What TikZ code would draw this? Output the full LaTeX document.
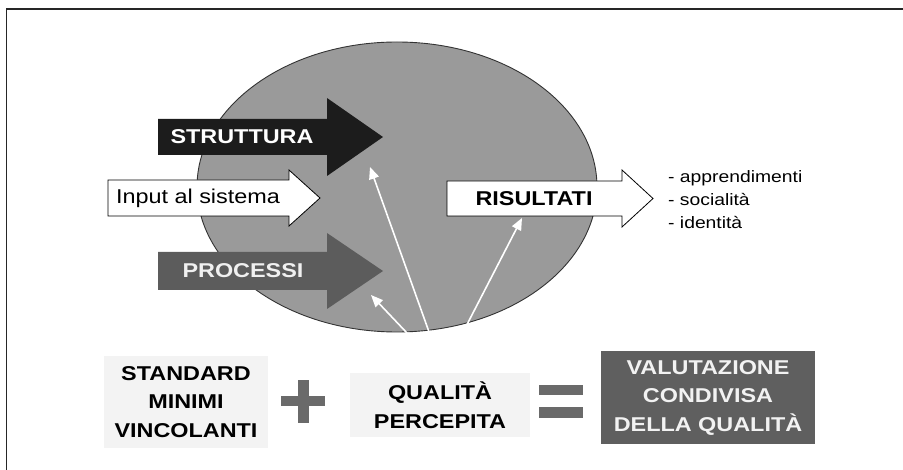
\documentclass[tikz,border=0pt]{standalone}
\usepackage{fontspec}
\setmainfont[FakeStretch=1.17]{Liberation Sans}
\usepackage{tikz}
\usetikzlibrary{calc,arrows.meta}

\definecolor{sysgray}{HTML}{9A9A9A}
\definecolor{strutturagray}{HTML}{1C1C1C}
\definecolor{processigray}{HTML}{5C5C5C}
\definecolor{signgray}{HTML}{6A6A6A}
\definecolor{boxlight}{HTML}{F3F3F3}
\definecolor{boxdark}{HTML}{5F5F5F}

\tikzset{
    bigtxt/.style={font=\fontsize{20}{24}\selectfont\bfseries, inner sep=0pt},
    boxtxt/.style={font=\fontsize{20}{28.5}\selectfont\bfseries, align=center, inner sep=0pt},
    qualityarrow/.style={->, white, line width=1.6pt}
}

\begin{document}
\begin{tikzpicture}[>={Triangle[length=12pt,width=10pt]}, x=1pt, y=-1pt]
        \useasboundingbox (0,0) rectangle (903,470);

        % Frame
        \draw[line width=1.1pt, black!85] (6.5,470) -- (6.5,9) -- (903,9);

        % Sistema (ellipse)
        \draw[fill=sysgray, draw=black!80, line width=0.9pt] (397,187) ellipse (200 and 145);

        % Struttura
        \draw[fill=strutturagray, draw=none] (158,119) -- (327,119) -- (327,98) -- (383,137)
            -- (327,176) -- (327,155) -- (158,155) -- cycle;
        \node[bigtxt, text=white] (struttura) at (242,137) {STRUTTURA};

        % Input al sistema
        \draw[fill=white, draw=black, line width=0.8pt] (108,180) -- (289,180) -- (289,170) -- (320,198)
            -- (289,226) -- (289,216) -- (108,216) -- cycle;
        \node[font=\fontsize{20}{24}\selectfont, inner sep=0pt] (input) at (198,198) {Input al sistema};

        % Processi
        \draw[fill=processigray, draw=none] (158,252) -- (327,252) -- (327,233) -- (383,271)
            -- (327,309) -- (327,290) -- (158,290) -- cycle;
        \node[bigtxt, text=white!94!black] (processi) at (243,271) {PROCESSI};

        % Risultati
        \draw[fill=white, draw=black, line width=0.8pt] (447,181) -- (622,181) -- (622,170) -- (653,198.5)
            -- (622,227) -- (622,216) -- (447,216) -- cycle;
        \node[bigtxt] (risultati) at (534,199) {RISULTATI};

        \node[anchor=west, align=left, inner sep=0pt, font=\fontsize{16.5}{23}\selectfont] (esiti) at (668,200)
            {- apprendimenti\\- socialit\`a\\- identit\`a};

        % Bottom row
        \node[boxtxt, fill=boxlight, minimum width=164pt, minimum height=92pt] (standard) at (186,402)
            {STANDARD\\MINIMI\\VINCOLANTI};
        \fill[signgray] (281,396) rectangle (325,406);
        \fill[signgray] (298,380) rectangle (309,423);

        \node[boxtxt, fill=boxlight, minimum width=180pt, minimum height=64pt] (qualita) at (440,405)
            {QUALIT\`A\\PERCEPITA};
        \fill[signgray] (539,385) rectangle (583,395);
        \fill[signgray] (539,407) rectangle (583,418);

        \node[boxtxt, text=white!95!black, fill=boxdark, minimum width=214pt, minimum height=93pt] (valutazione)
            at (708,397.5) {VALUTAZIONE\\CONDIVISA\\DELLA QUALIT\`A};

        % Quality arrows
        \coordinate (src) at (443,371);
        \coordinate (tipS) at (370,167);
        \coordinate (tipP) at (371,295);
        \coordinate (tipR) at (522,218);
        \draw[qualityarrow] (src) -- (tipS);
        \draw[qualityarrow] (src) -- (tipP);
        \draw[qualityarrow] (src) -- (tipR);
    \end{tikzpicture}
\end{document}
